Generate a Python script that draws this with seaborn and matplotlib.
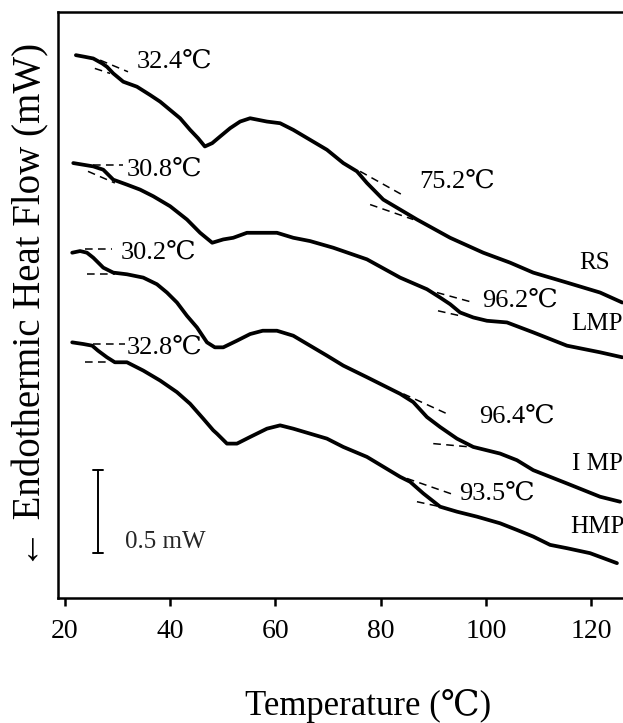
import matplotlib
matplotlib.use("Agg")
import matplotlib.pyplot as plt
import pandas as pd
import seaborn as sns

# DSC traces: temperature (°C) vs. endothermic heat flow (mW, traces offset vertically)
rs_temp = [22.1, 23.8, 25.4, 27.1, 28.0, 29.2, 31.1, 33.7, 36.2, 38.1, 40.0, 41.9, 43.8,
           45.3, 46.6, 48.0, 49.5, 51.4, 53.3, 55.2, 58.4, 60.9, 63.4, 66.6, 69.8, 72.9,
           75.5, 77.4, 80.5, 83.7, 86.9, 93.2, 99.5, 104.6, 109.0, 115.4, 121.7, 125.9]
rs_flow = [3.27, 3.26, 3.25, 3.22, 3.20, 3.16, 3.11, 3.08, 3.03, 2.99, 2.94, 2.89, 2.82,
           2.77, 2.72, 2.74, 2.78, 2.83, 2.87, 2.89, 2.87, 2.86, 2.82, 2.76, 2.70, 2.62,
           2.57, 2.50, 2.40, 2.34, 2.28, 2.17, 2.08, 2.02, 1.96, 1.90, 1.84, 1.78]

lmp_temp = [21.6, 23.5, 25.4, 27.3, 29.2, 31.8, 34.3, 36.8, 40.0, 43.2, 45.7, 48.0, 50.1,
            52.0, 54.6, 57.1, 60.3, 63.4, 66.6, 71.0, 77.4, 83.7, 88.8, 91.3, 93.2, 95.1,
            97.6, 100.2, 104.0, 106.5, 109.0, 115.4, 121.7, 125.9]
lmp_flow = [2.62, 2.61, 2.60, 2.58, 2.52, 2.49, 2.46, 2.42, 2.36, 2.28, 2.20, 2.14, 2.16,
            2.17, 2.20, 2.20, 2.20, 2.17, 2.15, 2.11, 2.04, 1.93, 1.86, 1.81, 1.77, 1.72,
            1.69, 1.67, 1.66, 1.63, 1.60, 1.52, 1.48, 1.45]

imp_temp = [21.4, 22.9, 24.2, 25.4, 27.3, 29.2, 31.8, 34.9, 37.5, 39.4, 41.3, 43.2, 45.1,
            47.0, 48.5, 50.1, 52.7, 55.2, 57.6, 60.3, 63.4, 66.6, 69.8, 72.9, 77.4, 83.7,
            86.2, 88.8, 91.3, 94.5, 97.6, 102.7, 105.9, 109.0, 115.4, 121.7, 125.5]
imp_flow = [2.08, 2.09, 2.08, 2.05, 1.99, 1.96, 1.95, 1.93, 1.89, 1.84, 1.78, 1.70, 1.63,
            1.54, 1.51, 1.51, 1.55, 1.59, 1.61, 1.61, 1.58, 1.52, 1.46, 1.40, 1.33, 1.23,
            1.18, 1.09, 1.03, 0.96, 0.91, 0.87, 0.83, 0.77, 0.69, 0.61, 0.58]

hmp_temp = [21.4, 23.5, 25.2, 26.3, 28.0, 29.5, 31.8, 34.9, 38.1, 41.3, 43.8, 46.3, 48.2,
            48.9, 50.8, 52.7, 55.2, 58.4, 60.9, 63.4, 66.6, 69.8, 72.9, 77.4, 83.7, 85.6,
            88.1, 91.3, 94.5, 98.3, 102.7, 105.9, 109.0, 112.2, 115.4, 119.8, 124.9]
hmp_flow = [1.54, 1.53, 1.52, 1.49, 1.45, 1.42, 1.42, 1.37, 1.31, 1.24, 1.17, 1.08, 1.01,
            0.99, 0.93, 0.93, 0.97, 1.02, 1.04, 1.02, 0.99, 0.96, 0.91, 0.85, 0.73, 0.70,
            0.63, 0.55, 0.52, 0.49, 0.45, 0.41, 0.37, 0.32, 0.30, 0.27, 0.21]

samples = ["RS", "LMP", "I MP", "HMP"]

# onset temperatures (°C) of the two transitions on each trace
onset_low = [32.4, 30.8, 30.2, 32.8]
onset_high = [75.2, 96.2, 96.4, 93.5]

# tangent construction lines: (T start, flow start, T end, flow end)
tangent_segments = [
    (26.7, 3.24, 32.0, 3.17), (25.7, 3.19, 28.6, 3.16),
    (76.1, 2.57, 84.6, 2.42), (78.0, 2.37, 86.2, 2.28),
    (25.4, 2.61, 31.1, 2.61), (24.4, 2.57, 29.5, 2.50),
    (90.7, 1.84, 97.6, 1.78), (90.9, 1.73, 95.1, 1.70),
    (23.8, 2.10, 29.0, 2.10), (24.2, 1.95, 29.5, 1.95),
    (84.3, 1.23, 92.6, 1.11), (90.0, 0.93, 97.0, 0.91),
    (25.4, 1.53, 31.4, 1.53), (23.8, 1.42, 28.0, 1.42),
    (85.0, 0.72, 94.1, 0.62), (86.9, 0.58, 91.3, 0.55),
]

scale_bar_mw = 0.5
x_ticks = [20, 40, 60, 80, 100, 120]

traces = pd.concat([
    pd.DataFrame({"Temperature": t, "Flow": f, "Sample": s})
    for t, f, s in zip([rs_temp, lmp_temp, imp_temp, hmp_temp],
                       [rs_flow, lmp_flow, imp_flow, hmp_flow], samples)
], ignore_index=True)

sns.set_theme(style="white")
plt.rcParams["font.family"] = ["Liberation Serif", "DejaVu Serif", "DejaVu Sans"]

fig = plt.figure(figsize=(6.23, 7.23), dpi=100)
ax = fig.add_axes([58 / 623, 125 / 723, 1 - 58 / 623, 586 / 723])

sns.lineplot(data=traces, x="Temperature", y="Flow", hue="Sample", units="Sample",
             estimator=None, sort=False, palette=["black"] * 4, legend=False,
             linewidth=2.7, ax=ax, solid_capstyle="round", solid_joinstyle="round")

for t0, f0, t1, f1 in tangent_segments:
    ax.plot([t0, t1], [f0, f1], color="black", linewidth=1.1, linestyle=(0, (5, 3.5)))

# onset labels and sample names
low_pos = [(40.9, 3.23), (39.0, 2.58), (37.7, 2.08), (39.0, 1.51)]
high_pos = [(94.5, 2.51), (106.5, 1.79), (105.9, 1.09), (102.1, 0.63)]
name_pos = [(120.7, 2.02), (121.1, 1.65), (121.1, 0.81), (121.1, 0.43)]
for i, s in enumerate(samples):
    ax.text(*low_pos[i], f"{onset_low[i]:.1f}℃", fontsize=19, ha="center", va="center",
            color="black")
    ax.text(*high_pos[i], f"{onset_high[i]:.1f}℃", fontsize=19, ha="center", va="center",
            color="black")
    ax.text(*name_pos[i], s, fontsize=18, ha="center", va="center", color="black")

# vertical scale bar
bar_x, bar_bottom = 26.3, 0.27
ax.plot([bar_x, bar_x], [bar_bottom, bar_bottom + scale_bar_mw], color="black", linewidth=1.4)
for yy in (bar_bottom, bar_bottom + scale_bar_mw):
    ax.plot([bar_x - 0.9, bar_x + 0.9], [yy, yy], color="black", linewidth=1.4)
ax.text(39.0, 0.34, f"{scale_bar_mw} mW", fontsize=18, ha="center", va="center")

ax.set_xlim(18.7, 126.05)
ax.set_ylim(0, 3.53)
ax.set_xticks(x_ticks)
ax.set_yticks([])
ax.tick_params(axis="x", direction="out", length=6, width=1.8, labelsize=20, pad=9,
               bottom=True, colors="black")
for side in ("left", "top", "bottom"):
    ax.spines[side].set_color("black")
    ax.spines[side].set_linewidth(1.8)
ax.spines["right"].set_visible(False)

ax.set_xlabel("Temperature (℃)", fontsize=25, color="black")
ax.xaxis.set_label_coords(0.549, -0.155)
ax.set_ylabel("← Endothermic Heat Flow (mW)", fontsize=28, labelpad=6, color="black")

fig.savefig("out.png", dpi=100)
